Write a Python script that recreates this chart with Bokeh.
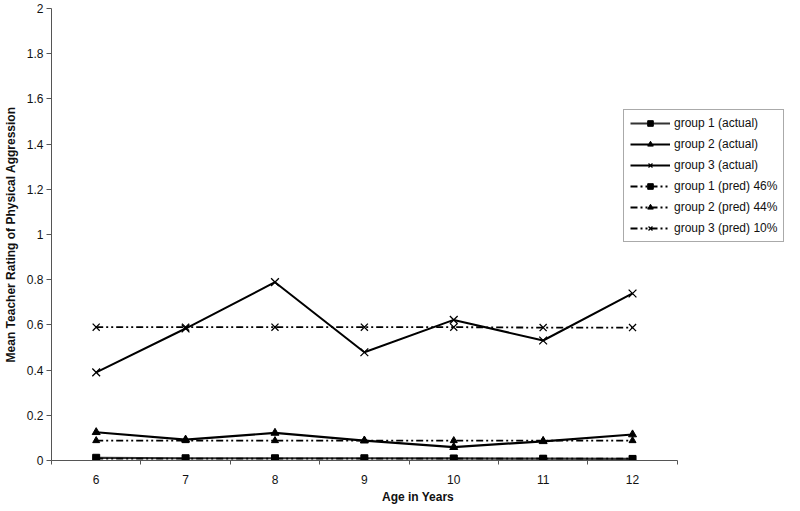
from bokeh.plotting import figure
from bokeh.models import (Range1d, FixedTicker, CustomJSTickFormatter, Legend, LegendItem)
from bokeh.embed import file_html
from bokeh.resources import INLINE

ages = [6, 7, 8, 9, 10, 11, 12]
g1_actual = [0.012, 0.010, 0.010, 0.010, 0.009, 0.008, 0.007]
g2_actual = [0.125, 0.092, 0.122, 0.088, 0.059, 0.085, 0.115]
g3_actual = [0.39, 0.584, 0.789, 0.479, 0.622, 0.531, 0.739]
g1_pred = [0.008, 0.008, 0.008, 0.008, 0.008, 0.008, 0.008]
g2_pred = [0.088, 0.088, 0.088, 0.088, 0.088, 0.088, 0.088]
g3_pred = [0.59, 0.59, 0.59, 0.59, 0.59, 0.588, 0.588]

labels = ["group 1 (actual)", "group 2 (actual)", "group 3 (actual)",
          "group 1 (pred) 46%", "group 2 (pred) 44%", "group 3 (pred) 10%"]

y_ticks = [0, 0.2, 0.4, 0.6, 0.8, 1.0, 1.2, 1.4, 1.6, 1.8, 2.0]
x_minor = [5.5, 6.5, 7.5, 8.5, 9.5, 10.5, 11.5, 12.5]

FONT = "Liberation Sans"

p = figure(width=784, height=511, output_backend="svg", toolbar_location=None,
           x_range=Range1d(5.5, 13.7), y_range=Range1d(0, 2),
           min_border_left=42, min_border_right=0, min_border_top=8, min_border_bottom=51)
p.outline_line_color = None
p.xgrid.grid_line_color = None
p.ygrid.grid_line_color = None

# axes
p.yaxis.ticker = FixedTicker(ticks=y_ticks)
p.yaxis.formatter = CustomJSTickFormatter(code="return String(Math.round(tick*10)/10);")
p.yaxis.major_tick_out = 5
p.yaxis.major_tick_in = 0
p.yaxis.minor_tick_out = 0
p.yaxis.minor_tick_in = 0
p.yaxis.major_label_standoff = 3
p.yaxis.axis_label = "Mean Teacher Rating of Physical Aggression"
p.yaxis.axis_label_standoff = 6
p.yaxis.axis_line_color = "#555555"
p.yaxis.major_tick_line_color = "#555555"

p.xaxis.ticker = FixedTicker(ticks=ages, minor_ticks=x_minor)
p.xaxis.bounds = (5.5, 12.5)
p.xaxis.major_tick_out = 0
p.xaxis.major_tick_in = 0
p.xaxis.minor_tick_out = 4
p.xaxis.minor_tick_in = 0
p.xaxis.major_label_standoff = 10
p.xaxis.axis_label = "Age in Years"
p.xaxis.axis_label_standoff = 3
p.xaxis.axis_line_color = "#555555"
p.xaxis.minor_tick_line_color = "#555555"

for ax in (p.xaxis, p.yaxis):
    ax.major_label_text_font = FONT
    ax.major_label_text_font_size = "12px"
    ax.major_label_text_color = "#111111"
    ax.axis_label_text_font = FONT
    ax.axis_label_text_font_size = "12px"
    ax.axis_label_text_font_style = "bold"
    ax.axis_label_text_color = "#111111"

DASH = "7 3 2 3 2 3"
items = []

def series(ys, marker, dash, lw, label, msize, color="black"):
    r_line = p.line(ages, ys, line_color=color, line_width=lw, line_dash=dash)
    if marker == "x":
        r_m = p.scatter(ages, ys, marker="x", size=msize, line_color="black", line_width=1.3)
    else:
        r_m = p.scatter(ages, ys, marker=marker, size=msize, line_color="black",
                        fill_color="black")
    items.append(LegendItem(label=label, renderers=[r_line, r_m]))

series(g1_actual, "square", "solid", 2.2, labels[0], 7, "#333333")
series(g2_actual, "triangle", "solid", 2.2, labels[1], 8)
series(g3_actual, "x", "solid", 2.0, labels[2], 11)
series(g1_pred, "square", DASH, 1.8, labels[3], 6)
series(g2_pred, "triangle", DASH, 1.8, labels[4], 7)
series(g3_pred, "x", DASH, 1.8, labels[5], 10)

legend = Legend(items=items, location=(572, 218), margin=0, padding=6,
                spacing=7, glyph_height=14, label_height=14, glyph_width=40,
                label_standoff=4,
                label_text_font=FONT, label_text_font_size="12px",
                label_text_color="#111111",
                border_line_color="#555555", border_line_width=1,
                background_fill_color="white", background_fill_alpha=1.0)
p.add_layout(legend)

open("out.html", "w").write(file_html(p, INLINE))
